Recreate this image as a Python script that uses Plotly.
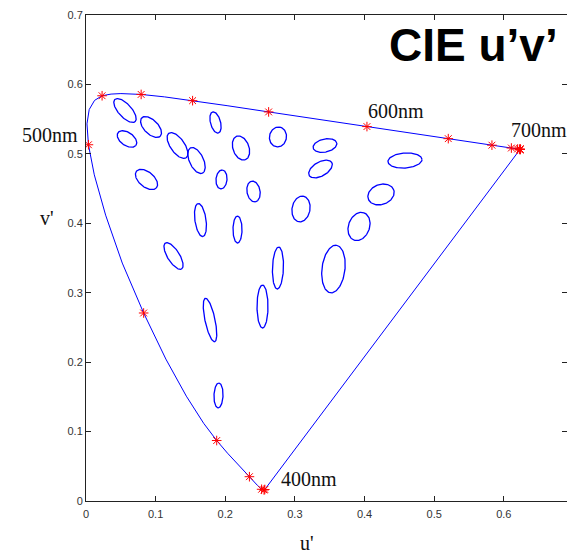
import numpy as np
import plotly.graph_objects as go

# Spectral locus (CIE 1976 u'v'), wavelengths in nm
wavelength = [380, 400, 410, 420, 430, 440, 450, 455, 460, 465, 470, 475, 480, 485,
              490, 495, 500, 505, 510, 515, 520, 525, 530, 535, 540, 550, 560, 570,
              580, 590, 600, 610, 620, 630, 640, 650, 660, 670, 680, 690, 700, 720,
              740, 760, 780]
locus_u = [0.2568, 0.2557, 0.2545, 0.2522, 0.2461, 0.2347, 0.2161, 0.2033, 0.1877, 0.1690,
           0.1441, 0.1147, 0.0828, 0.0521, 0.0282, 0.0119, 0.0035, 0.0014, 0.0046, 0.0123,
           0.0231, 0.0360, 0.0501, 0.0643, 0.0792, 0.1127, 0.1531, 0.2026, 0.2623, 0.3315,
           0.4035, 0.4692, 0.5203, 0.5565, 0.5830, 0.6005, 0.6109, 0.6162, 0.6199, 0.6226,
           0.6234, 0.6234, 0.6234, 0.6234, 0.6234]
locus_v = [0.0166, 0.0159, 0.0159, 0.0169, 0.0226, 0.0350, 0.0549, 0.0688, 0.0871, 0.1119,
           0.1510, 0.2044, 0.2708, 0.3427, 0.4117, 0.4698, 0.5131, 0.5432, 0.5638, 0.5770,
           0.5837, 0.5861, 0.5868, 0.5865, 0.5856, 0.5821, 0.5766, 0.5694, 0.5604, 0.5501,
           0.5393, 0.5296, 0.5219, 0.5165, 0.5125, 0.5099, 0.5084, 0.5076, 0.5070, 0.5066,
           0.5065, 0.5065, 0.5065, 0.5065, 0.5065]

# MacAdam ellipses: centre (u', v'), semi-axes, orientation (degrees)
ell_u = [0.0560, 0.0934, 0.0589, 0.1314, 0.1587, 0.0869, 0.1860, 0.2226, 0.2757, 0.1946,
         0.2406, 0.3432, 0.3368, 0.3088, 0.4237, 0.4581, 0.3921, 0.3554, 0.2757, 0.2535,
         0.1644, 0.2176, 0.1257, 0.1781, 0.1903]
ell_v = [0.5624, 0.5387, 0.5214, 0.5120, 0.4904, 0.4631, 0.5452, 0.5084, 0.5243, 0.4631,
         0.4458, 0.5120, 0.4782, 0.4206, 0.4415, 0.4904, 0.3954, 0.3341, 0.3356, 0.2801,
         0.4047, 0.3910, 0.3529, 0.2607, 0.1520]
ell_a = [0.0216, 0.0187, 0.0158, 0.0216, 0.0201, 0.0187, 0.0158, 0.0180, 0.0144, 0.0137,
         0.0151, 0.0173, 0.0187, 0.0187, 0.0194, 0.0245, 0.0209, 0.0345, 0.0302, 0.0309,
         0.0240, 0.0194, 0.0220, 0.0320, 0.0180]
ell_b = [0.0094, 0.0101, 0.0094, 0.0101, 0.0101, 0.0108, 0.0072, 0.0115, 0.0122, 0.0079,
         0.0094, 0.0094, 0.0101, 0.0129, 0.0144, 0.0108, 0.0151, 0.0165, 0.0079, 0.0079,
         0.0080, 0.0065, 0.0086, 0.0072, 0.0065]
ell_angle = [-48, -45, -35, -55, -65, -40, -75, -70, 80, 85,
             -80, 12, 30, 80, 20, 4, 70, 83, 88, 90,
             -82, 90, -58, -78, 88]

tick_vals = [0, 0.1, 0.2, 0.3, 0.4, 0.5, 0.6, 0.7]
tick_text = ["0", "0.1", "0.2", "0.3", "0.4", "0.5", "0.6", "0.7"]

BLUE = "#0000ff"
fig = go.Figure()

# ellipses
t = np.linspace(0, 2 * np.pi, 120)
for cu, cv, a, b, ang in zip(ell_u, ell_v, ell_a, ell_b, ell_angle):
    th = np.deg2rad(ang)
    xs = cu + a * np.cos(th) * np.cos(t) - b * np.sin(th) * np.sin(t)
    ys = cv + a * np.sin(th) * np.cos(t) + b * np.cos(th) * np.sin(t)
    fig.add_trace(go.Scatter(x=xs, y=ys, mode="lines",
                             line=dict(color=BLUE, width=1.3),
                             hoverinfo="skip", showlegend=False))

# locus including purple line
loc_x = locus_u + [locus_u[0]]
loc_y = locus_v + [locus_v[0]]
fig.add_trace(go.Scatter(x=loc_x, y=loc_y, mode="lines",
                         line=dict(color=BLUE, width=1), showlegend=False))

# markers every 20 nm
mk_u = [u for w, u in zip(wavelength, locus_u) if w % 20 == 0]
mk_v = [v for w, v in zip(wavelength, locus_v) if w % 20 == 0]
fig.add_trace(go.Scatter(x=mk_u, y=mk_v, mode="markers",
                         marker=dict(symbol="asterisk-open", size=8, color="red",
                                     line=dict(color="red", width=1)),
                         showlegend=False))

serif = "Liberation Serif, Times New Roman, serif"
# labels placed in paper coordinates (fraction of plot area)
labels = [
    dict(text="500nm", x=-0.0748, y=0.7531, xanchor="center", yanchor="middle"),
    dict(text="600nm", x=0.6435, y=0.8025, xanchor="center", yanchor="middle"),
    dict(text="700nm", x=0.8800, y=0.7634, xanchor="left", yanchor="middle"),
    dict(text="400nm", x=0.4012, y=0.0453, xanchor="left", yanchor="middle"),
    dict(text="v'", x=-0.0811, y=0.5823, xanchor="center", yanchor="middle"),
    dict(text="u'", x=0.4595, y=-0.1130, xanchor="center", yanchor="bottom"),
]
for lab in labels:
    fig.add_annotation(x=lab["x"], y=lab["y"], xref="paper", yref="paper",
                       text=lab["text"], showarrow=False, xanchor=lab["xanchor"],
                       yanchor=lab["yanchor"],
                       font=dict(family=serif, size=20, color="#111111"))

fig.add_annotation(x=0.6258, y=0.9383, xref="paper", yref="paper",
                   text="<b>CIE u’v’</b>", showarrow=False, xanchor="left",
                   yanchor="middle",
                   font=dict(family="Liberation Sans, Arial, sans-serif", size=46,
                             color="black"))

axis_common = dict(showgrid=False, zeroline=False, showline=True, linecolor="#222222",
                   linewidth=1, mirror="ticks", ticks="inside", ticklen=5,
                   tickcolor="#222222", tickvals=tick_vals, ticktext=tick_text,
                   tickfont=dict(family="Liberation Sans, Arial, sans-serif", size=11,
                                 color="#333333"))
fig.update_xaxes(range=[0, 0.6908], ticklabelstandoff=3, **axis_common)
fig.update_yaxes(range=[0, 0.7], **axis_common)

fig.update_layout(width=567, height=556, margin=dict(l=86, r=0, t=15, b=55),
                  plot_bgcolor="white", paper_bgcolor="white", showlegend=False)

fig.write_html("out.html")
